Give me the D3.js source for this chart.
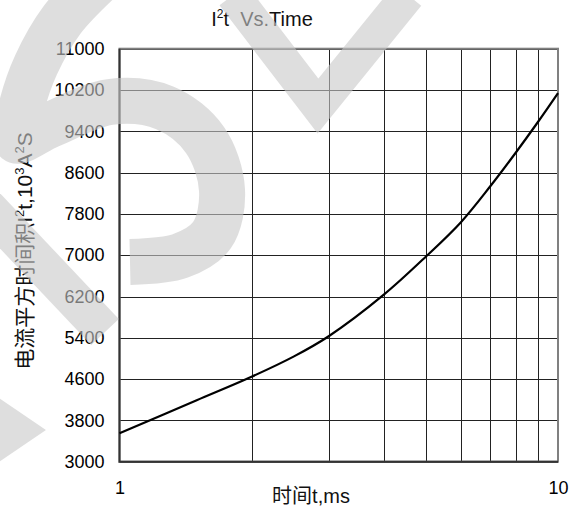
<!DOCTYPE html>
<html>
<head>
<meta charset="utf-8">
<script src="https://cdn.jsdelivr.net/npm/d3@7"></script>
<style>
body { margin: 0; background: #fff; }
</style>
</head>
<body>
<div id="chart"></div>
<script>
// I2t vs time
var timeMs = [1, 1.5, 2, 2.5, 3, 4, 5, 6, 7, 8, 9, 10];
var i2tValues = [3550, 4190, 4645, 5040, 5430, 6230, 6975, 7635, 8330, 8980, 9580, 10140];
var yTicks = [3000, 3800, 4600, 5400, 6200, 7000, 7800, 8600, 9400, 10200, 11000];
var xGridTicks = [2, 3, 4, 5, 6, 7, 8, 9];
var xLabelTicks = [1, 10];

var width = 579,
    height = 510;
var plotLeft = 119.5, plotRight = 558, plotTop = 48.7, plotBottom = 461.7;
var latin = "'Liberation Sans', Arial, sans-serif";
var cjk = "'Liberation Sans', 'Noto Sans CJK SC', sans-serif";

var svg = d3.select("#chart").append("svg")
    .attr("width", width)
    .attr("height", height);

var xScale = d3.scaleLog()
    .domain([1, 10])
    .range([plotLeft, plotRight]);
var yScale = d3.scaleLinear()
    .domain([3000, 11000])
    .range([plotBottom, plotTop]);

// horizontal grid + y labels
var yAxis = svg.append("g")
    .attr("transform", "translate(" + plotLeft + ",0)")
    .call(d3.axisLeft(yScale).tickValues(yTicks).tickSize(-(plotRight - plotLeft)).tickPadding(15).tickFormat(d3.format("d")));
yAxis.select(".domain").remove();
yAxis.selectAll("line")
    .attr("stroke", "#222")
    .attr("shape-rendering", "crispEdges");
yAxis.selectAll("text")
    .attr("font-family", latin)
    .attr("font-size", 18)
    .attr("fill", "#000");

// vertical grid
var xGrid = svg.append("g")
    .attr("transform", "translate(0," + plotBottom + ")")
    .call(d3.axisBottom(xScale).tickValues(xGridTicks).tickSize(-(plotBottom - plotTop)).tickFormat(""));
xGrid.select(".domain").remove();
xGrid.selectAll("line")
    .attr("stroke", "#222")
    .attr("shape-rendering", "crispEdges");

// x labels 1 and 10
var xAxis = svg.append("g")
    .attr("transform", "translate(0," + plotBottom + ")")
    .call(d3.axisBottom(xScale).tickValues(xLabelTicks).tickSize(0).tickPadding(20).tickFormat(d3.format("d")));
xAxis.select(".domain").remove();
xAxis.selectAll("text")
    .attr("font-family", latin)
    .attr("font-size", 18)
    .attr("fill", "#000");

// frame
svg.append("rect")
    .attr("x", plotLeft)
    .attr("y", plotTop)
    .attr("width", plotRight - plotLeft)
    .attr("height", plotBottom - plotTop)
    .attr("fill", "none")
    .attr("stroke", "#808080")
    .attr("stroke-width", 2);
svg.append("path")
    .attr("d", "M" + plotLeft + "," + plotTop + "V" + plotBottom + "H" + plotRight)
    .attr("fill", "none")
    .attr("stroke", "#333")
    .attr("stroke-width", 2);

// the curve
var lineData = timeMs.map(function (t, i) {
    return { t: t, v: i2tValues[i] };
});
var line_generator = d3.line()
    .x(function (d) { return xScale(d.t); })
    .y(function (d) { return yScale(d.v); })
    .curve(d3.curveCatmullRom.alpha(0.5));
svg.append("path")
    .attr("d", line_generator(lineData))
    .attr("fill", "none")
    .attr("stroke", "#000")
    .attr("stroke-width", 2.2);

// title
var title = svg.append("text")
    .attr("x", 262)
    .attr("y", 26)
    .attr("text-anchor", "middle")
    .attr("font-family", latin)
    .attr("font-size", 20)
    .attr("fill", "#111");
title.append("tspan").text("I");
title.append("tspan").attr("font-size", 12).attr("dy", -8).text("2");
title.append("tspan").attr("dy", 8).text("t\u00a0\u00a0Vs.Time");

// y label
var yLabel = svg.append("text")
    .attr("transform", "translate(32,251) rotate(-90)")
    .attr("text-anchor", "middle")
    .attr("font-family", cjk)
    .attr("font-size", 21)
    .attr("fill", "#111");
yLabel.append("tspan").text("电流平方时间积I");
yLabel.append("tspan").attr("font-size", 13).attr("dy", -8).text("2");
yLabel.append("tspan").attr("dy", 8).text("t,10");
yLabel.append("tspan").attr("font-size", 13).attr("dy", -8).text("3");
yLabel.append("tspan").attr("dy", 8).text("A");
yLabel.append("tspan").attr("font-size", 13).attr("dy", -8).text("2");
yLabel.append("tspan").attr("dy", 8).text("S");

// x label
svg.append("text")
    .attr("x", 311)
    .attr("y", 503)
    .attr("text-anchor", "middle")
    .attr("font-family", cjk)
    .attr("font-size", 20)
    .attr("fill", "#111")
    .text("时间t,ms");

// light watermark ("S" + "V") lying over the chart
var wmStrokes = [
    { w: 46, pts: [[100, -20], [62, 20], [36, 65], [22, 105], [16, 140], [50, 125], [110, 102], [165, 108], [205, 140], [222, 190], [212, 235], [180, 256], [130, 262]] },
    { w: 38, pts: [[-15, 205], [105, 332]] },
    { w: 34, pts: [[233, -5], [318, 106], [408, -5]] },
    { w: 36, pts: [[-30, 400], [14, 430], [-30, 460]] }
];
var wm = svg.append("g").attr("opacity", 0.6);
var wmLine = d3.line().curve(d3.curveCatmullRom);
wmStrokes.forEach(function (s, i) {
    wm.append("path")
        .attr("d", i == 0 ? wmLine(s.pts) : d3.line()(s.pts))
        .attr("fill", "none")
        .attr("stroke", "#c9c9c9")
        .attr("stroke-width", s.w)
        .attr("stroke-linejoin", "miter")
        .attr("stroke-linecap", "butt");
});
</script>
</body>
</html>
